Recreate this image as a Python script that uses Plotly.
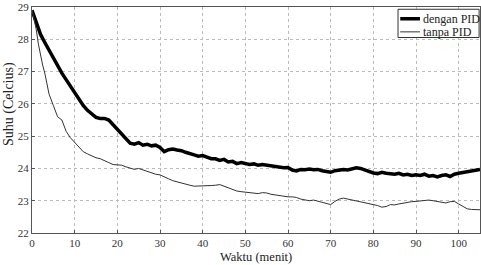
import plotly.graph_objects as go

# Time (minutes)
t_pid = list(range(0, 106))
suhu_pid = [28.9, 28.5, 28.15, 27.9, 27.65, 27.4, 27.15, 26.95, 26.75, 26.55,
            26.35, 26.15, 25.95, 25.8, 25.7, 25.58, 25.55, 25.55, 25.5, 25.35,
            25.2, 25.05, 24.9, 24.78, 24.75, 24.8, 24.72, 24.75, 24.7, 24.72,
            24.65, 24.52, 24.58, 24.6, 24.57, 24.55, 24.5, 24.45, 24.42, 24.38,
            24.4, 24.35, 24.3, 24.3, 24.25, 24.28, 24.2, 24.22, 24.15, 24.18,
            24.15, 24.12, 24.14, 24.1, 24.12, 24.1, 24.1, 24.07, 24.05, 24.02,
            24.03, 23.95, 23.92, 23.97, 23.96, 23.98, 23.96, 23.97, 23.93, 23.9,
            23.88, 23.93, 23.95, 23.97, 23.95, 23.98, 24.02, 24.0, 23.95, 23.9,
            23.86, 23.84, 23.88, 23.85, 23.83, 23.82, 23.85, 23.8, 23.82, 23.78,
            23.8, 23.78, 23.82, 23.76, 23.78, 23.74, 23.78, 23.8, 23.75, 23.82,
            23.85, 23.87, 23.9, 23.92, 23.95, 23.97]

t_nopid = [0, 0.5, 1, 1.5, 2, 2.5, 3, 3.5, 4] + list(range(5, 106))
suhu_nopid = [28.9, 28.6, 28.3, 27.85, 27.5, 27.2, 26.95, 26.6, 26.3,
              25.95, 25.6, 25.5, 25.15, 24.95, 24.8, 24.65, 24.52, 24.45, 24.38,
              24.33, 24.3, 24.25, 24.18, 24.12, 24.1, 24.1, 24.05, 24.0, 23.97,
              24.0, 23.95, 23.9, 23.85, 23.82, 23.8, 23.75, 23.68, 23.62, 23.58,
              23.55, 23.52, 23.48, 23.45, 23.45, 23.45, 23.47, 23.47, 23.48, 23.5,
              23.45, 23.4, 23.35, 23.3, 23.28, 23.27, 23.25, 23.24, 23.22, 23.25,
              23.24, 23.2, 23.18, 23.15, 23.14, 23.12, 23.12, 23.1, 23.05, 23.02,
              23.0, 23.02, 22.98, 22.95, 22.9, 22.88, 22.98, 23.05, 23.08, 23.05,
              23.02, 23.0, 22.97, 22.95, 22.92, 22.88, 22.85, 22.8, 22.82, 22.88,
              22.87, 22.9, 22.93, 22.95, 22.97, 22.98, 23.0, 23.0, 23.02, 23.0,
              22.97, 22.95, 22.93, 22.97, 22.98, 22.9, 22.82, 22.75, 22.73, 22.72,
              22.72]

series_names = ["dengan PID", "tanpa PID"]
x_ticks = list(range(0, 101, 10))
y_ticks = list(range(22, 30))

FONT = "Liberation Serif, Times New Roman, serif"
LINE_STYLES = [dict(color="black", width=3.5), dict(color="#333333", width=1)]

fig = go.Figure()
fig.add_trace(go.Scatter(x=t_pid, y=suhu_pid, mode="lines", name=series_names[0],
                         line=LINE_STYLES[0]))
fig.add_trace(go.Scatter(x=t_nopid, y=suhu_nopid, mode="lines", name=series_names[1],
                         line=LINE_STYLES[1]))

axis_common = dict(showline=True, linecolor="#555555", linewidth=1, mirror=True,
                   showgrid=True, gridcolor="#bbbbbb", griddash="dot", gridwidth=1,
                   zeroline=False, ticks="inside", ticklen=3, tickcolor="#555555",
                   ticklabeloverflow="allow", automargin=False,
                   tickfont=dict(family=FONT, size=11, color="#333333"))

fig.update_xaxes(range=[0, 105], tickvals=x_ticks, **axis_common)
fig.update_yaxes(range=[22, 29], tickvals=y_ticks, **axis_common)

fig.add_annotation(text="Waktu (menit)", xref="paper", yref="paper",
                   x=0.5, xanchor="center", y=0, yanchor="top", yshift=-16,
                   showarrow=False, borderpad=0,
                   font=dict(family=FONT, size=12.5, color="#222"))
fig.add_annotation(text="Suhu (Celcius)", textangle=-90, xref="paper", yref="paper",
                   x=0, xanchor="center", xshift=-23, y=0.5, yanchor="middle", yshift=16,
                   showarrow=False, font=dict(family=FONT, size=14, color="#222"))

# Legend box (drawn in paper coordinates, top-right inside the axes)
fig.add_shape(type="rect", xref="paper", yref="paper", x0=0.817, x1=0.998, y0=0.865, y1=0.99,
              line=dict(color="#333", width=1), fillcolor="white", layer="above")
legend_y = [0.948, 0.89]
for name, style, ly in zip(series_names, LINE_STYLES, legend_y):
    fig.add_shape(type="line", xref="paper", yref="paper", x0=0.822, x1=0.866, y0=ly, y1=ly,
                  line=style, layer="above")
    fig.add_annotation(text=name, xref="paper", yref="paper", x=0.869, y=ly,
                       xanchor="left", yanchor="middle", showarrow=False,
                       font=dict(family=FONT, size=12, color="#222"))

fig.update_layout(
    width=481, height=265,
    margin=dict(l=32, r=1, t=7, b=32),
    paper_bgcolor="white", plot_bgcolor="white",
    showlegend=False,
)

fig.write_html("out.html")
